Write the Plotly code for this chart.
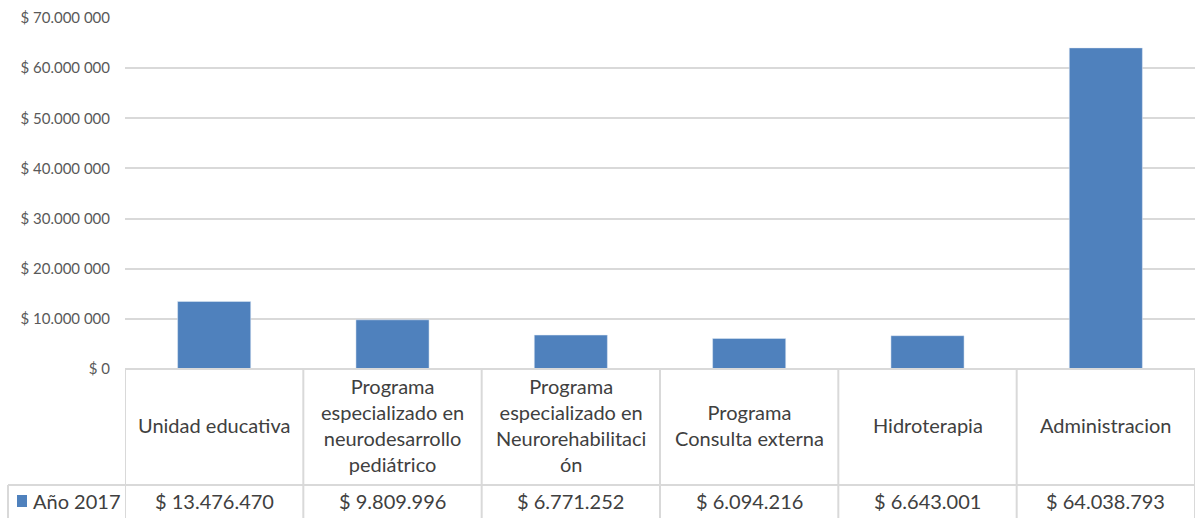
import plotly.graph_objects as go

categories = ["Unidad educativa",
              "Programa<br>especializado en<br>neurodesarrollo<br>pediátrico",
              "Programa<br>especializado en<br>Neurorehabilitaci<br>ón",
              "Programa<br>Consulta externa",
              "Hidroterapia",
              "Administracion"]
values = [13476470, 9809996, 6771252, 6094216, 6643001, 64038793]
value_labels = ["$ 13.476.470", "$ 9.809.996", "$ 6.771.252", "$ 6.094.216", "$ 6.643.001", "$ 64.038.793"]
series_name = "Año 2017"
tick_vals = [0, 10000000, 20000000, 30000000, 40000000, 50000000, 60000000, 70000000]
tick_text = ["$ 0", "$ 10.000 000", "$ 20.000 000", "$ 30.000 000", "$ 40.000 000",
             "$ 50.000 000", "$ 60.000 000", "$ 70.000 000"]

W, H = 1199, 518
L, R, T, B = 125, 4, 18, 149
pw = W - L - R
ph = H - T - B
FONT = "Lato, 'Open Sans', sans-serif"
TXT = "#404040"
GRID = "#d9d9d9"

def py(p):  # pixel y -> paper y
    return (H - B - p) / ph

def px(p):
    return (p - L) / pw

n = len(categories)
fig = go.Figure(go.Bar(x=list(range(n)), y=values, marker_color="#4f81bd",
                       width=0.41, name=series_name, showlegend=False))

shapes = []
shapes.append(dict(type="line", xref="paper", yref="paper", x0=0, x1=1, y0=0, y1=0,
                   line=dict(color=GRID, width=2)))
shapes.append(dict(type="line", xref="paper", yref="paper", x0=px(8), x1=1, y0=py(485), y1=py(485),
                   line=dict(color=GRID, width=2)))
for i in range(n + 1):
    shapes.append(dict(type="line", xref="x", yref="paper", x0=i - 0.5, x1=i - 0.5,
                       y0=0, y1=py(520), line=dict(color=GRID, width=2)))
shapes.append(dict(type="line", xref="paper", yref="paper", x0=px(8), x1=px(8),
                   y0=py(485), y1=py(520), line=dict(color=GRID, width=2)))
shapes.append(dict(type="rect", xref="paper", yref="paper", x0=px(17), x1=px(27),
                   y0=py(507), y1=py(495), fillcolor="#4f81bd", line=dict(width=0)))

ann = []
for i, c in enumerate(categories):
    ann.append(dict(x=i, xref="x", y=py(425), yref="paper", text=c, showarrow=False,
                    font=dict(family=FONT, size=20, color=TXT), align="center",
                    xanchor="center", yanchor="middle"))
    ann.append(dict(x=i, xref="x", y=py(501), yref="paper", text=value_labels[i], showarrow=False,
                    font=dict(family=FONT, size=20, color=TXT), xanchor="center", yanchor="middle"))
ann.append(dict(x=px(31), xref="paper", y=py(501), yref="paper", text=series_name, showarrow=False,
                font=dict(family=FONT, size=20, color=TXT), xanchor="left", yanchor="middle"))

fig.update_layout(
    width=W, height=H,
    margin=dict(l=L, r=R, t=T, b=B, pad=0),
    plot_bgcolor="white", paper_bgcolor="white",
    xaxis=dict(range=[-0.5, n - 0.5], showticklabels=False, showgrid=False, zeroline=False,
               showline=False, ticks="", automargin=False),
    yaxis=dict(range=[0, 70000000], tickvals=tick_vals, ticktext=tick_text,
               showgrid=True, gridcolor=GRID, gridwidth=2, zeroline=False, showline=False,
               ticks="", ticklabelstandoff=14, automargin=False,
               tickfont=dict(family=FONT, size=15, color="#595959")),
    shapes=shapes, annotations=ann, bargap=0.59,
)
fig.write_html("out.html", config={"displayModeBar": False},
               post_script="document.body.style.margin='0';document.body.style.overflow='hidden';")
